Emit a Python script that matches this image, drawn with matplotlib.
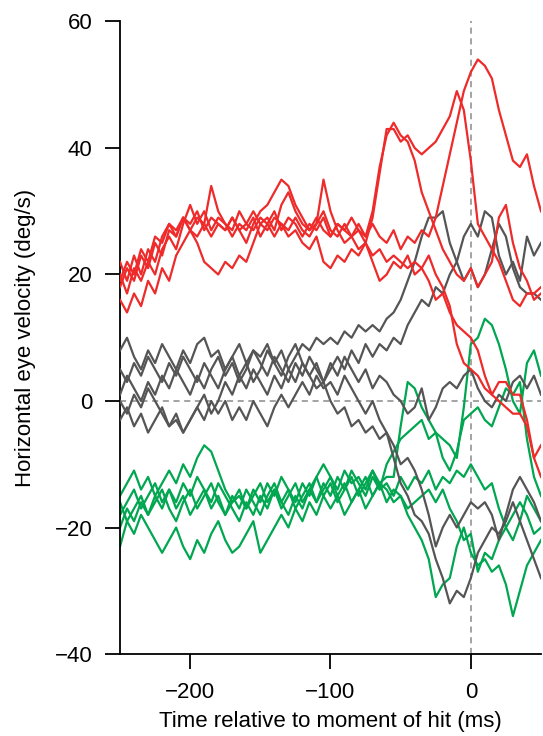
import matplotlib
matplotlib.use("Agg")
import matplotlib.pyplot as plt
import numpy as np

plt.rcParams['font.family'] = ['Liberation Sans', 'DejaVu Sans']

#====================DATA====================

# sample times (ms), every 5 ms from -250 to 50
t = np.arange(-250, 51, 5)

red_1 = [18, 21, 19, 23, 21, 25, 23, 27, 26, 29, 28, 30, 27, 29, 28, 27, 29, 27, 28, 30,
         28, 29, 27, 31, 33, 30, 28, 27, 29, 27, 26, 28, 27, 29, 27, 26, 28, 26, 25, 27,
         24, 26, 25, 27, 26, 29, 34, 39, 44, 49, 52, 54, 53, 51, 46, 42, 38, 37, 39, 34, 30]
red_2 = [20, 17, 21, 19, 22, 20, 24, 26, 24, 28, 31, 28, 30, 27, 29, 28, 27, 30, 28, 27,
         29, 28, 26, 28, 27, 29, 27, 26, 28, 30, 27, 26, 28, 26, 27, 25, 29, 36, 43, 43,
         41, 42, 40, 39, 40, 41, 43, 45, 49, 46, 38, 28, 26, 24, 22, 19, 16, 15, 17, 17, 18]
red_3 = [16, 14, 17, 15, 19, 17, 21, 19, 23, 25, 27, 26, 28, 34, 30, 28, 26, 28, 27, 29,
         26, 28, 30, 27, 29, 28, 26, 28, 27, 29, 26, 28, 27, 26, 28, 26, 30, 37, 42, 44,
         42, 41, 38, 33, 30, 27, 24, 22, 20, 19, 21, 18, 20, 22, 29, 31, 25, 21, 19, 16, 17]
red_4 = [22, 19, 23, 20, 24, 22, 26, 28, 27, 29, 27, 29, 28, 26, 28, 27, 29, 27, 25, 28,
         30, 31, 33, 35, 34, 31, 29, 27, 28, 35, 30, 27, 25, 26, 24, 25, 23, 24, 22, 23,
         22, 21, 22, 21, 23, 20, 18, 15, 9, 6, 5, 4, 2, 1, 3, 3, 1, 1, -3, -9, -12]
red_5 = [19, 22, 20, 24, 22, 26, 25, 28, 26, 29, 27, 25, 22, 21, 20, 22, 21, 23, 22, 25,
         28, 27, 29, 28, 26, 27, 25, 24, 26, 22, 21, 23, 22, 24, 23, 25, 22, 19, 20, 22,
         21, 23, 20, 21, 19, 16, 17, 14, 12, 11, 10, 8, 4, 1, 0, -1, -2, -2, -4, -9, -7]

gray_1 = [8, 10, 7, 5, 8, 6, 9, 7, 5, 8, 6, 9, 10, 7, 8, 5, 7, 9, 6, 8,
          7, 9, 6, 8, 5, 7, 9, 8, 10, 9, 10, 9, 11, 10, 12, 11, 12, 11, 13, 14,
          16, 19, 22, 26, 29, 29, 30, 25, 22, 19, 21, 18, 20, 24, 28, 26, 21, 18, 17, 17, 16]
gray_2 = [5, 3, 6, 4, 7, 5, 3, 6, 4, 7, 5, 3, 6, 4, 2, 5, 7, 4, 6, 3,
          5, 8, 6, 4, 7, 9, 6, 4, 6, 3, 5, 7, 5, 8, 6, 9, 7, 9, 8, 10,
          9, 12, 14, 16, 15, 18, 17, 20, 22, 26, 28, 26, 30, 29, 23, 20, 22, 19, 26, 23, 25]
gray_3 = [1, 4, 2, 0, 3, 1, 4, 2, 5, 3, 1, 4, 2, 5, 7, 4, 6, 3, 5, 8,
          6, 4, 7, 5, 3, 6, 4, 7, 5, 3, 6, 4, 7, 5, 3, 5, 2, 4, 3, 1,
          0, -2, -1, 2, -3, -1, 2, 3, 2, 4, 5, 2, 0, -1, 1, 0, 3, 4, 2, 4, 1]
gray_4 = [-3, -1, -4, -2, -5, -3, -1, -4, -2, -5, -3, -1, 1, -2, 0, 3, 1, 4, 2, 5,
          3, 1, 4, 2, 5, 3, 6, 4, 2, 3, 0, -2, -1, -4, -3, -5, -4, -6, -5, -9,
          -13, -15, -18, -19, -21, -25, -28, -32, -30, -31, -28, -24, -22, -20, -21, -19, -16, -19, -22, -25, -28]
gray_5 = [0, -2, 1, -1, 2, 0, -2, -4, -3, -5, -3, -1, -3, 0, -2, 0, -3, -1, -3, 0,
          -2, -4, -1, 1, -1, 1, 3, 1, 4, 2, 3, 1, 4, 2, 0, -2, 0, -3, -5, -7,
          -10, -9, -11, -14, -18, -23, -20, -18, -20, -18, -16, -17, -16, -18, -22, -18, -14, -12, -14, -16, -19]

green_1 = [-15, -13, -11, -14, -12, -15, -13, -11, -13, -10, -12, -9, -7, -8, -11, -14, -16, -15, -17, -14,
           -16, -13, -15, -12, -14, -16, -13, -15, -12, -10, -12, -14, -11, -13, -12, -14, -11, -13, -12, -12,
           -4, 3, 2, -1, -3, -5, -6, -7, -9, -1, 9, 10, 13, 12, 9, 5, 0, -2, 6, 8, 4]
green_2 = [-18, -16, -14, -17, -15, -13, -16, -14, -17, -15, -18, -16, -14, -17, -15, -18, -16, -14, -17, -15,
           -13, -16, -14, -17, -15, -13, -16, -14, -12, -15, -13, -16, -14, -12, -15, -13, -11, -14, -10, -8,
           -6, -5, -4, -3, -6, -5, -9, -11, -8, -3, -2, -1, -3, -4, -1, 2, 1, 3, -6, -12, -15]
green_3 = [-16, -19, -17, -15, -18, -16, -14, -17, -19, -16, -14, -17, -15, -13, -16, -18, -15, -17, -14, -16,
           -18, -15, -13, -16, -14, -17, -15, -13, -16, -14, -12, -15, -13, -16, -14, -12, -15, -13, -14, -16,
           -15, -18, -20, -22, -25, -31, -29, -28, -23, -20, -24, -26, -25, -27, -26, -29, -34, -30, -26, -24, -22]
green_4 = [-20, -17, -19, -16, -18, -15, -17, -14, -16, -13, -15, -12, -14, -16, -13, -15, -17, -19, -16, -18,
           -15, -17, -14, -16, -18, -15, -17, -14, -16, -13, -15, -12, -14, -11, -13, -15, -12, -14, -13, -15,
           -12, -14, -12, -13, -11, -14, -12, -13, -11, -12, -10, -12, -14, -13, -17, -20, -22, -19, -15, -17, -19]
green_5 = [-23, -19, -21, -18, -20, -22, -24, -22, -20, -23, -25, -22, -24, -21, -19, -22, -24, -23, -21, -19,
           -24, -22, -20, -18, -20, -17, -19, -16, -18, -15, -17, -15, -18, -16, -14, -17, -15, -13, -16, -14,
           -15, -17, -16, -15, -14, -16, -14, -17, -19, -22, -21, -27, -24, -25, -22, -20, -18, -16, -18, -21, -20]

greens = [green_1, green_2, green_3, green_4, green_5]
grays = [gray_1, gray_2, gray_3, gray_4, gray_5]
reds = [red_1, red_2, red_3, red_4, red_5]

#====================PLOT====================

fig = plt.figure(figsize=(5.43, 7.36), dpi=100)
ax = fig.add_axes([0.221, 0.1114, 0.7753, 0.8594])

ax.axhline(0, color="#8a8a8a", lw=1.1, ls=(0, (4, 3)), zorder=1)
ax.axvline(0, color="#8a8a8a", lw=1.1, ls=(0, (4, 3)), zorder=1)

for y in greens:
    ax.plot(t, y, color="#00a650", lw=1.6, zorder=2)
for y in grays:
    ax.plot(t, y, color="#555555", lw=1.6, zorder=3)
for y in reds:
    ax.plot(t, y, color="#ee2a2a", lw=1.6, zorder=4)

ax.set_xlim(-250, 50)
ax.set_ylim(-40, 60)
ax.set_xticks([-200, -100, 0])
ax.set_xticklabels(["\u2212200", "\u2212100", "0"])
ax.set_yticks([-40, -20, 0, 20, 40, 60])
ax.set_yticklabels(["\u221240", "\u221220", "0", "20", "40", "60"])

for s in ["top", "right"]:
    ax.spines[s].set_visible(False)
for s in ["left", "bottom"]:
    ax.spines[s].set_linewidth(1.3)

ax.tick_params(axis="both", direction="out", length=11, width=1.3, pad=9, labelsize=16)
ax.set_xlabel("Time relative to moment of hit (ms)", fontsize=16, labelpad=6)
ax.set_ylabel("Horizontal eye velocity (deg/s)", fontsize=16, labelpad=13)

fig.savefig("out.png", dpi=100)
